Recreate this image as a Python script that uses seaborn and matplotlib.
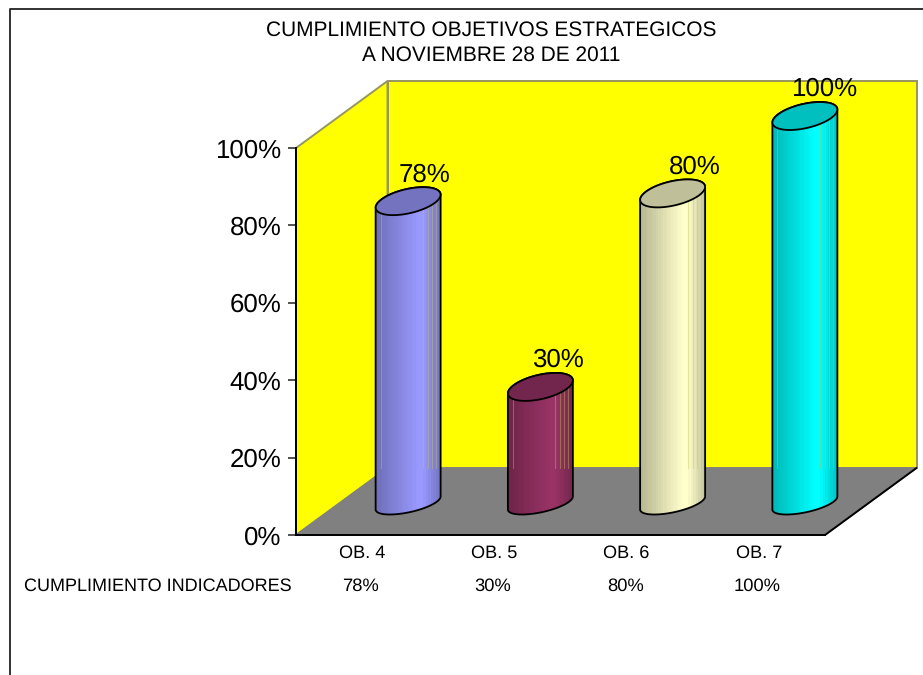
import numpy as np
import pandas as pd
import matplotlib
matplotlib.use("Agg")
import matplotlib.pyplot as plt
import seaborn as sb
from matplotlib.lines import Line2D
from matplotlib.path import Path
from matplotlib.patches import PathPatch, Polygon
from matplotlib.ticker import PercentFormatter
from matplotlib.transforms import Affine2D, IdentityTransform

# values
objetivos = ["OB. 4", "OB. 5", "OB. 6", "OB. 7"]
cumplimiento = [78, 30, 80, 100]
colores = ["#9999FF", "#993366", "#FFFFCC", "#00FFFF"]
titulo = "CUMPLIMIENTO OBJETIVOS ESTRATEGICOS\nA NOVIEMBRE 28 DE 2011"
fila = "CUMPLIMIENTO INDICADORES"

sb.set_theme(style="white")
plt.rcParams["font.family"] = ["Liberation Sans", "DejaVu Sans"]
plt.rcParams["text.hinting"] = "no_hinting"

W, H = 923, 675
fig = plt.figure(figsize=(W / 100, H / 100), dpi=100)
ax = fig.add_axes([296 / W, 1 - 535 / H, 529 / W, 387 / H])
ax.set_facecolor("none")

df = pd.DataFrame({"objetivo": objetivos, "valor": cumplimiento})
sb.barplot(data=df, x="objetivo", y="valor", hue="objetivo", palette=colores,
           width=0.484, legend=False, saturation=1, ax=ax)
bars = list(ax.patches)
ax.set_xlim(-0.5, 3.5)
ax.set_ylim(0, 100)

# fake 3d: everything sits behind the axes plane by a pixel shift
depth = ax.transData + Affine2D().translate(91.5, 67)
mid = ax.transData + Affine2D().translate(46, 32)

#################### WALLS ####################
edge = "#969660"
ax.add_patch(Polygon([(-0.5, 0), (-0.5, 100), (3.5, 100), (3.5, 0)], transform=depth,
                     fc="#FFFF00", ec=edge, lw=1.4, clip_on=False, zorder=0.5))
corner = ax.transData.transform([(-0.5, 0), (-0.5, 100)])
back = depth.transform([(-0.5, 100), (-0.5, 0)])
ax.add_patch(Polygon(np.vstack([corner, back]), transform=IdentityTransform(),
                     fc="#FFFF00", ec=edge, lw=1.4, clip_on=False, zorder=0.5))
front = ax.transData.transform([(-0.5, 0), (3.5, 0)])
rear = depth.transform([(3.5, 0), (-0.5, 0)])
ax.add_patch(Polygon(np.vstack([front, rear]), transform=IdentityTransform(),
                     fc="#808080", ec="#808080", lw=1, clip_on=False, zorder=0.6))
ax.add_line(Line2D([front[1][0], rear[0][0]], [front[1][1], rear[0][1]], transform=IdentityTransform(),
                   color="black", lw=1.4, clip_on=False, zorder=0.7))
floor_y = rear[0][1]

#################### CYLINDERS ####################
rx = 32.5


def arc(cx, cy, t0, t1, ry=14):
    t = np.linspace(t0, t1, 60)
    return np.column_stack([cx + rx * np.cos(t), cy + ry * np.cos(t - np.arccos(6.5 / ry))])


# streak positions, pixels from the cylinder centre
streaks = [-27.5, 15, 20, 24, 28]
label_dx = [16, 18, 22, 19]

for i, (bar, color, v) in enumerate(zip(bars, colores, cumplimiento)):
    x0, x1 = bar.get_x(), bar.get_x() + bar.get_width()
    cx, cy0 = mid.transform((i, 0))
    cx, cy1 = mid.transform((i, v))

    # the bottom edge looks flatter than the top in the original
    body = np.vstack([arc(cx, cy0, np.pi, 2 * np.pi, ry=11.5), arc(cx, cy1, 0, np.pi)])
    body_path = Path(np.vstack([body, body[0]]), closed=True)
    bar.set_transform(mid)
    bar.set_clip_box(fig.bbox)
    bar.set_clip_path(body_path, IdentityTransform())
    bar.set_linewidth(0)

    # shading across the cylinder, in steps like the original
    rgb = np.array(matplotlib.colors.to_rgb(color))
    pos = (np.arange(26) + 0.5) / 26
    shade = np.interp(pos, [0, 0.65, 0.72, 1], [0.72, 1, 1, 0.76])
    grad = (shade[:, None] * rgb)[None, :, :]
    im = ax.imshow(grad, extent=(x0, x1, -12, v + 8), aspect="auto", interpolation="nearest",
                   transform=mid, zorder=1.2)
    im.set_clip_box(fig.bbox)
    im.set_clip_path(body_path, IdentityTransform())

    for s in streaks:
        ln = Line2D([cx + s, cx + s], [floor_y, cy1 + 20], transform=IdentityTransform(),
                    color="#C8C850", alpha=0.4, lw=0.8, zorder=1.3)
        ax.add_line(ln)
        ln.set_clip_box(fig.bbox)
        ln.set_clip_path(body_path, IdentityTransform())

    ax.add_patch(PathPatch(body_path, transform=IdentityTransform(), fc="none", ec="black",
                           lw=1.3, clip_on=False, zorder=1.4))
    top = arc(cx, cy1, 0, 2 * np.pi)
    ax.add_patch(Polygon(top, transform=IdentityTransform(), fc=rgb * 0.75, ec="black",
                         lw=1.3, clip_on=False, zorder=1.5))

    ax.annotate(f"{v}%", xy=(cx + label_dx[i], cy1 + 26.5), xycoords=IdentityTransform(),
                ha="center", va="center", fontsize=18.6, color="black", zorder=3,
                annotation_clip=False)

    # small table under the axis
    ax.annotate(f"{v}%", xy=(i, 0), xytext=(-1, -51 * 0.72), textcoords="offset points",
                ha="center", va="center", fontsize=13.2, color="black", annotation_clip=False)

ax.set_xlim(-0.5, 3.5)
ax.set_ylim(0, 100)

#################### AXES ####################
ax.set_xlabel("")
ax.set_ylabel("")
ax.set_yticks([0, 20, 40, 60, 80, 100])
ax.yaxis.set_major_formatter(PercentFormatter(100, decimals=0))
ax.tick_params(axis="y", left=True, length=6, width=1.2, color="#333333", labelsize=18.6, pad=4.5,
               labelcolor="black")
ax.tick_params(axis="x", bottom=False, labelsize=13.1, pad=1, labelcolor="black")
sb.despine(ax=ax, top=True, right=True)
for side in ["left", "bottom"]:
    ax.spines[side].set_color("black")
    ax.spines[side].set_linewidth(1.4)

fig.text(291.5 / W, 1 - 586 / H, fila, ha="right", va="center", fontsize=12.95, color="black")
fig.text(491 / W, 1 - 43 / H, titulo, ha="center", va="center", fontsize=15, color="black",
         linespacing=1.4)

# outer frame, only top and left show
fig.add_artist(Line2D([9.5 / W, 9.5 / W, 1], [0, 1 - 8.5 / H, 1 - 8.5 / H], color="#222222", lw=1.3))

fig.savefig("out.png", dpi=100)
